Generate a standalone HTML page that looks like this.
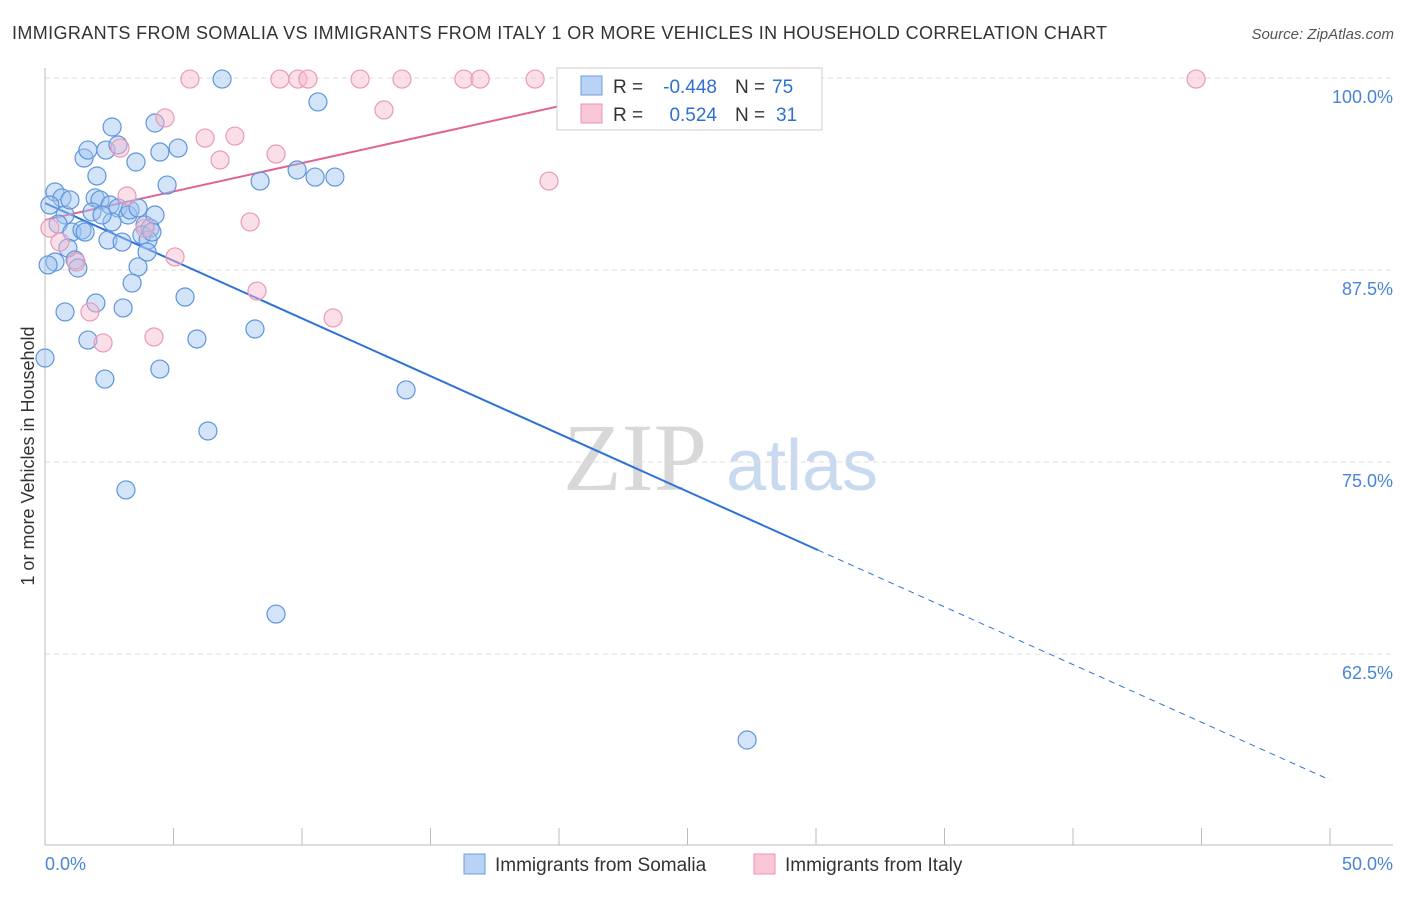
<!DOCTYPE html>
<html><head><meta charset="utf-8"><style>
body{margin:0;background:#fff;font-family:"Liberation Sans",sans-serif;}
</style></head><body>
<svg id="chart" width="1406" height="892" xmlns="http://www.w3.org/2000/svg" font-family="Liberation Sans, sans-serif">
<text x="12" y="39" font-size="18" fill="#333" textLength="1095">IMMIGRANTS FROM SOMALIA VS IMMIGRANTS FROM ITALY 1 OR MORE VEHICLES IN HOUSEHOLD CORRELATION CHART</text>
<text x="1394" y="39" font-size="15" fill="#555" font-style="italic" text-anchor="end">Source: ZipAtlas.com</text>
<text transform="translate(34,456) rotate(-90)" font-size="18" fill="#333" text-anchor="middle">1 or more Vehicles in Household</text>
<g font-size="96" text-anchor="middle">
<text x="635" y="490" fill="#d8d8d8" font-family="Liberation Serif, serif">ZIP</text>
<text x="802" y="490" fill="#c9daf0" font-size="72">atlas</text>
</g>
<g id="grid"></g><g id="axes"></g><g id="lines"></g><g id="pts"></g>
<g font-size="19">
<rect x="557" y="68" width="265" height="62" fill="#fff" stroke="#ccc"/>
<rect x="581" y="76" width="21" height="19" fill="#b9d3f5" stroke="#6a9ee0"/>
<rect x="581" y="104" width="21" height="19" fill="#f9c6d6" stroke="#e896b0"/>
<text x="613" y="93" fill="#333">R =</text>
<text x="717" y="93" fill="#2e6fd1" text-anchor="end">-0.448</text>
<text x="735" y="93" fill="#333">N =</text>
<text x="772" y="93" fill="#2e6fd1">75</text>
<text x="613" y="121" fill="#333">R =</text>
<text x="717" y="121" fill="#2e6fd1" text-anchor="end">0.524</text>
<text x="735" y="121" fill="#333">N =</text>
<text x="776" y="121" fill="#2e6fd1">31</text>
</g>
<g font-size="19" fill="#333">
<rect x="464" y="854" width="21" height="20" fill="#b9d3f5" stroke="#6a9ee0"/>
<text x="495" y="871">Immigrants from Somalia</text>
<rect x="754" y="854" width="21" height="20" fill="#f9c6d6" stroke="#e896b0"/>
<text x="785" y="871">Immigrants from Italy</text>
</g>
</svg>
<script>
const blueX=[0.39,0.66,0.19,0.78,0.51,1.05,1.44,0.89,1.17,0.39,0.12,1.28,1.52,1.67,2.37,2.61,2.84,3.54,4.28,4.47,5.18,4.75,2.02,1.95,2.14,1.83,2.53,2.84,3.23,3.31,3.62,3.89,4.09,3.77,4.01,4.16,2.61,2.45,3.00,3.97,3.62,3.39,1.98,3.04,0.78,1.67,2.33,5.45,5.91,4.47,6.34,3.15,6.89,10.62,8.37,9.81,10.51,11.28,8.17,14.05,8.99,27.32,0,1.56,4.28,0.97,2.22];
const blueY=[92.58,92.19,91.73,91.08,90.49,89.97,90.10,88.93,88.15,88.02,87.83,87.63,94.79,95.31,95.31,96.81,95.64,94.53,97.07,95.18,95.44,93.03,93.62,92.19,92.06,91.28,91.73,91.54,91.08,91.41,91.54,90.43,90.23,89.78,89.45,89.97,90.63,89.45,89.32,88.67,87.70,86.65,85.35,85.03,84.77,82.94,80.40,85.74,83.01,81.05,77.02,73.18,99.93,98.44,93.29,94.01,93.55,93.55,83.66,79.69,65.10,56.90,81.77,89.97,91.08,92.06,91.08];
const pinkX=[5.64,9.14,9.84,10.23,12.26,13.89,16.30,16.93,19.07,44.79,4.67,6.23,7.39,6.81,13.19,8.99,3.19,2.92,7.98,5.06,8.25,11.21,4.24,2.26,1.75,0.58,1.21,19.61,3.89,0.19];
const pinkY=[99.93,99.93,99.93,99.93,99.93,99.93,99.93,99.93,99.93,99.93,97.40,96.09,96.22,94.66,97.92,95.05,92.32,95.44,90.63,88.35,86.13,84.38,83.14,82.75,84.77,89.32,88.02,93.29,90.23,90.23];
const blueTrend=[91.86,54.30]; // y at x=0 and x=50
const pinkTrend=[90.76,100.2,25.5]; // y at 0, y at end, end x
const yTicks=[100,87.5,75,62.5];
const yTickLabels=["100.0%","87.5%","75.0%","62.5%"];
const xTicks=[0,5,10,15,20,25,30,35,40,45,50];

const NS="http://www.w3.org/2000/svg";
const X=v=>45+v*25.7, Y=v=>78+(100-v)*15.36;
function mk(p,t,a){const e=document.createElementNS(NS,t);for(const k in a)e.setAttribute(k,a[k]);document.getElementById(p).appendChild(e);return e;}
yTicks.forEach((t,i)=>{
 const l=mk('grid','line',{x1:45,x2:1393,y1:Y(t),y2:Y(t),stroke:'#ddd','stroke-dasharray':'5,4'});
 
 
 const tx=mk('grid','text',{x:1393,y:Y(t)+25,'font-size':18,fill:'#4a84d6','text-anchor':'end'});
 tx.textContent=yTickLabels[i];
 
 
});
const ax=mk('axes','line',{x1:45,x2:1393,y1:845,y2:845,stroke:'#bbb'});


const ay=mk('axes','line',{x1:45,x2:45,y1:68,y2:845,stroke:'#bbb'});


xTicks.forEach(t=>{
 const l=mk('axes','line',{x1:X(t),x2:X(t),y1:828,y2:845,stroke:'#bbb'});
 
 
});
[[0,"0.0%","start"],[50,"50.0%","end"]].forEach(d=>{
 const tx=mk('axes','text',{x:d[0]===0?45:1393,y:870,'font-size':18,fill:'#4a84d6','text-anchor':d[2]});
 tx.textContent=d[1];
 
 
});
function dot(x,y,f,s,name){
 const c=mk('pts','circle',{cx:X(x),cy:Y(y),r:9,fill:f,stroke:s,'stroke-width':1.2});
 
 
}
blueX.forEach((x,i)=>dot(x,blueY[i],'rgba(160,196,240,0.45)','#5e95dc','somalia-point'));
pinkX.forEach((x,i)=>dot(x,pinkY[i],'rgba(247,185,205,0.45)','#e99ab4','italy-point'));
const bY=x=>blueTrend[0]+(blueTrend[1]-blueTrend[0])*x/50;
const b1=mk('lines','line',{x1:X(0),y1:Y(bY(0)),x2:X(30.08),y2:Y(bY(30.08)),stroke:'#2f72d6','stroke-width':2});


const b2=mk('lines','line',{x1:X(30.08),y1:Y(bY(30.08)),x2:X(50),y2:Y(bY(50)),stroke:'#2f72d6','stroke-width':1,'stroke-dasharray':'6,5'});


const p1=mk('lines','line',{x1:X(0),y1:Y(pinkTrend[0]),x2:X(pinkTrend[2]),y2:Y(pinkTrend[1]),stroke:'#e0648f','stroke-width':2});


</script>
</body></html>
